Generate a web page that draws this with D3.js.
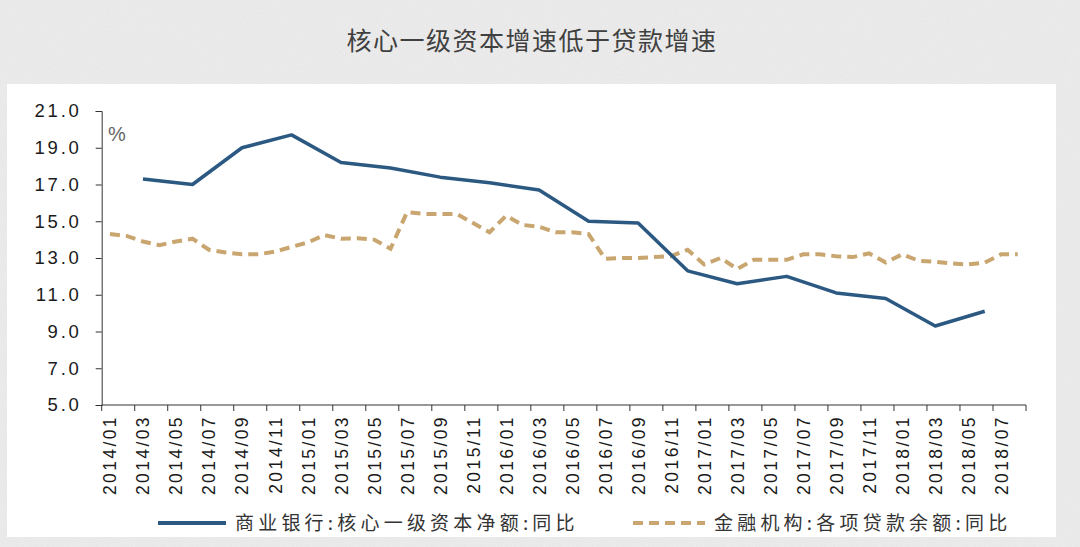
<!DOCTYPE html>
<html><head><meta charset="utf-8">
<script src="https://cdn.jsdelivr.net/npm/d3@7"></script>
<style>
html,body{margin:0;padding:0;background:#ececec;}
svg{display:block;}
</style>
</head><body>
<svg id="chart" width="1080" height="547"></svg>
<script>
// ---- data ----
const title = "核心一级资本增速低于贷款增速";
const months = [];
for (let y = 2014; y <= 2018; y++) for (let m = 1; m <= 12; m++) {
  if (y === 2018 && m > 8) break;
  months.push(y + "/" + String(m).padStart(2, "0"));
}
const tickLabels = months.filter((d, i) => i % 2 === 0);
const yTicks = [5, 7, 9, 11, 13, 15, 17, 19, 21];

const capitalMonths = ["2014/03","2014/06","2014/09","2014/12","2015/03","2015/06","2015/09","2015/12",
  "2016/03","2016/06","2016/09","2016/12","2017/03","2017/06","2017/09","2017/12","2018/03","2018/06"];
const capitalValues = [17.3,17.0,19.0,19.7,18.2,17.9,17.4,17.1,16.7,15.0,14.9,12.3,11.6,12.0,11.1,10.8,9.3,10.1];

const loanValues = [14.3,14.2,13.9,13.7,13.9,14.05,13.45,13.3,13.2,13.2,13.35,13.6,
  13.85,14.25,14.05,14.07,14.0,13.5,15.5,15.4,15.4,15.4,14.9,14.4,
  15.3,14.8,14.7,14.4,14.4,14.3,12.95,13.0,13.0,13.05,13.1,13.45,
  12.65,13.0,12.4,12.9,12.9,12.9,13.2,13.2,13.1,13.05,13.25,12.75,
  13.2,12.85,12.8,12.7,12.65,12.75,13.2,13.2];

const seriesNames = ["商业银行:核心一级资本净额:同比", "金融机构:各项贷款余额:同比"];

// ---- drawing ----
const svg = d3.select("#chart");
const W = 1080, H = 547;
const defs = svg.append("defs");
const f = defs.append("filter").attr("id","noise").attr("x",0).attr("y",0).attr("width","100%").attr("height","100%");
f.append("feTurbulence").attr("type","fractalNoise").attr("baseFrequency",0.9).attr("numOctaves",2).attr("seed",3).attr("result","t");
f.append("feColorMatrix").attr("type","matrix")
  .attr("values","0 0 0 0 0.55  0 0 0 0 0.55  0 0 0 0 0.55  0 0 0 0.22 0");

svg.append("rect").attr("width",W).attr("height",H).attr("fill","#eeeeee");
svg.append("rect").attr("width",W).attr("height",H).attr("filter","url(#noise)");

// white panel
svg.append("rect").attr("x",7).attr("y",84).attr("width",1049).attr("height",453).attr("fill","#ffffff");

svg.append("text").attr("x",532).attr("y",50).attr("text-anchor","middle")
  .attr("font-family","'Noto Sans CJK SC'").attr("font-size",25).attr("fill","#404040")
  .attr("letter-spacing",1.5).text(title);

const x = d3.scaleBand().domain(months).range([101.7, 1026]).padding(0);
const y = d3.scaleLinear().domain([5, 21]).range([405, 111]);
const cx = d => x(d) + x.bandwidth() / 2;

const axisColor = "#333";
// y axis
const gy = svg.append("g").attr("transform", `translate(${x.range()[0]},0)`)
  .call(d3.axisLeft(y).tickValues(yTicks).tickFormat(d3.format(".1f")).tickSize(6).tickPadding(14));
gy.select(".domain").attr("stroke", axisColor);
gy.selectAll(".tick line").attr("stroke", axisColor);
gy.selectAll(".tick text").attr("font-family","'Liberation Sans', Arial, sans-serif")
  .attr("font-size",18.5).attr("fill","#1a1a1a").attr("letter-spacing",2.8);

// x axis line and ticks at band boundaries
svg.append("line").attr("x1",x.range()[0]).attr("x2",x.range()[1]).attr("y1",y(5)).attr("y2",y(5))
  .attr("stroke",axisColor);
const tickPos = tickLabels.map(d => x(d)).concat([x.range()[1]]);
svg.append("g").selectAll("line").data(tickPos).join("line")
  .attr("x1",d=>d).attr("x2",d=>d).attr("y1",y(5)).attr("y2",y(5)+6).attr("stroke",axisColor);
svg.append("g").selectAll("text").data(tickLabels).join("text")
  .attr("transform", d => `translate(${cx(d)+6.5},${y(5)+10}) rotate(-90)`)
  .attr("text-anchor","end")
  .attr("font-family","'Liberation Sans', Arial, sans-serif").attr("font-size",17.5)
  .attr("letter-spacing",2.4).attr("fill","#1a1a1a").text(d => d);

// % unit
svg.append("text").attr("x",108).attr("y",141).attr("font-family","'Liberation Sans', Arial, sans-serif")
  .attr("font-size",20).attr("fill","#666").text("%");

const blue = "#2b5982", tan = "#c9a66f";
const line = d3.line().x(d => cx(d[0])).y(d => y(d[1]));

svg.append("path").datum(months.map((m,i)=>[m, loanValues[i]]))
  .attr("d", line).attr("fill","none").attr("stroke",tan).attr("stroke-width",4)
  .attr("stroke-dasharray","10,6");
svg.append("path").datum(capitalMonths.map((m,i)=>[m, capitalValues[i]]))
  .attr("d", line).attr("fill","none").attr("stroke",blue).attr("stroke-width",3.5)
  .attr("stroke-linejoin","round");

// legend
const lg = svg.append("g");
const ly = 523;
lg.append("line").attr("x1",158).attr("x2",226).attr("y1",ly).attr("y2",ly).attr("stroke",blue).attr("stroke-width",4);
lg.append("text").attr("x",235).attr("y",ly+7).attr("font-family","'Noto Sans CJK SC'").attr("font-size",19)
  .attr("letter-spacing",4.2).attr("fill","#333").text(seriesNames[0]);
lg.append("line").attr("x1",633).attr("x2",705).attr("y1",ly).attr("y2",ly).attr("stroke",tan).attr("stroke-width",4)
  .attr("stroke-dasharray","10,6");
lg.append("text").attr("x",714).attr("y",ly+7).attr("font-family","'Noto Sans CJK SC'").attr("font-size",19)
  .attr("letter-spacing",4.2).attr("fill","#333").text(seriesNames[1]);
</script>
</body></html>
